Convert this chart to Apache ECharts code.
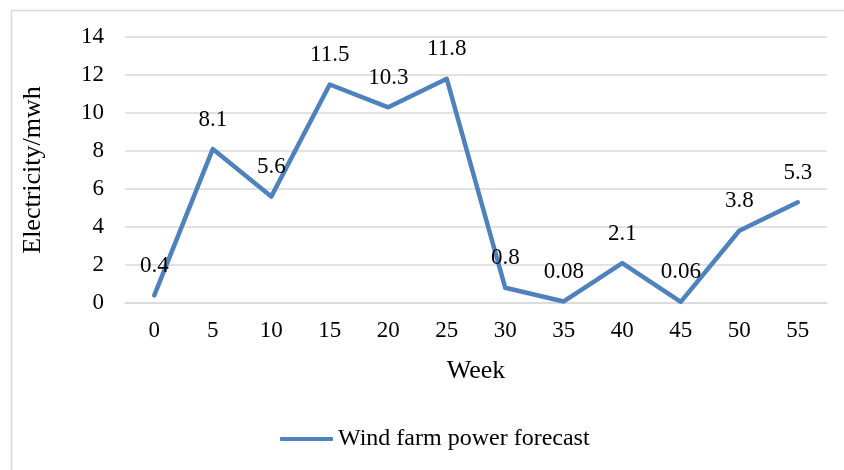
<!DOCTYPE html>
<html><head><meta charset="utf-8">
<script src="https://cdn.jsdelivr.net/npm/echarts@6/dist/echarts.min.js"></script>
<style>html,body{margin:0;padding:0;background:#fff}#c{width:844px;height:470px}</style>
</head><body><div id="c"></div>
<script>
var weeks = ['0','5','10','15','20','25','30','35','40','45','50','55'];
var values = [0.4, 8.1, 5.6, 11.5, 10.3, 11.8, 0.8, 0.08, 2.1, 0.06, 3.8, 5.3];
var seriesName = 'Wind farm power forecast';
var FONT = '"Liberation Serif", "Times New Roman", serif';
var chart = echarts.init(document.getElementById('c'), null, {renderer:'canvas'});
chart.setOption({
  animation:false,
  backgroundColor:'#fff',
  graphic:[{type:'rect', left:9, top:8, shape:{width:900, height:500}, style:{fill:'none', stroke:'#d9d9d9', lineWidth:1.5}, silent:true}],
  grid:{left:125, right:17, top:37, bottom:167},
  legend:{bottom:14, left:275, data:[seriesName], itemWidth:53, itemHeight:4, itemGap:5,
    icon:'roundRect',
    textStyle:{fontFamily:FONT, fontSize:24, color:'#000'}},
  xAxis:{type:'category', data:weeks, boundaryGap:true,
    name:'Week', nameLocation:'middle', nameGap:55,
    nameTextStyle:{fontFamily:FONT, fontSize:26, color:'#000'},
    axisLine:{lineStyle:{color:'#d9d9d9', width:1.5}}, axisTick:{show:false},
    axisLabel:{fontFamily:FONT, fontSize:23, color:'#000', margin:16}},
  yAxis:{type:'value', min:0, max:14, interval:2,
    name:'Electricity/mwh', nameLocation:'middle', nameGap:79,
    nameTextStyle:{fontFamily:FONT, fontSize:26, color:'#000'},
    axisLine:{show:false}, axisTick:{show:false},
    splitLine:{lineStyle:{color:'#d9d9d9', width:1.5}},
    axisLabel:{fontFamily:FONT, fontSize:23, color:'#000', margin:21}},
  series:[{name:seriesName, type:'line', data:values, symbol:'circle', symbolSize:0.1, showSymbol:true,
    lineStyle:{color:'#4f81bd', width:4.5, cap:'round', join:'round'}, itemStyle:{color:'#4f81bd'},
    label:{show:true, position:'top', distance:18, fontFamily:FONT, fontSize:23, color:'#000'}}]
});
</script></body></html>
